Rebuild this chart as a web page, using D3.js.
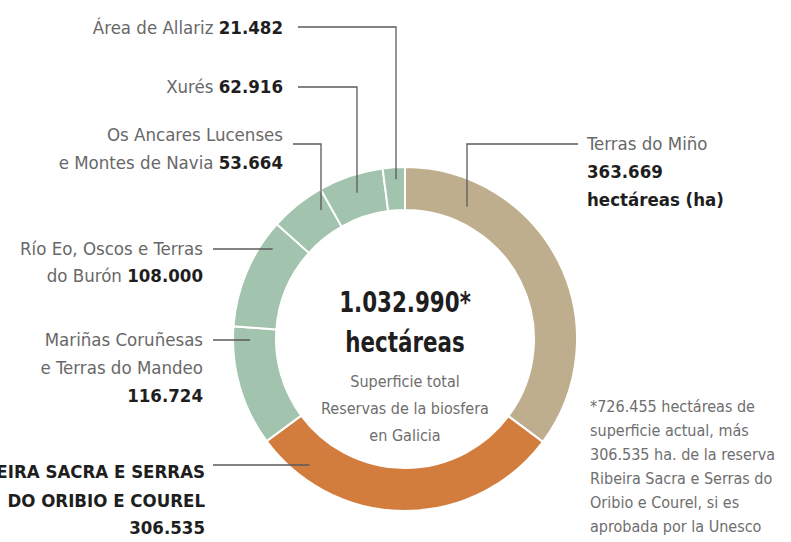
<!DOCTYPE html>
<html>
<head>
<meta charset="utf-8">
<script src="https://cdn.jsdelivr.net/npm/d3@7"></script>
<style>
  html, body { margin: 0; padding: 0; background: #fff; }
  svg { display: block; }
  text { font-family: "DejaVu Sans Condensed", "Liberation Sans Narrow", "Roboto", sans-serif; font-stretch: condensed; }
</style>
</head>
<body>
<svg id="chart"></svg>
<script>
// Reservas da biosfera en Galicia (hectáreas)
const categories = [
  "Terras do Miño",
  "Ribeira Sacra e Serras do Oribio e Courel",
  "Mariñas Coruñesas e Terras do Mandeo",
  "Río Eo, Oscos e Terras do Burón",
  "Os Ancares Lucenses e Montes de Navia",
  "Xurés",
  "Área de Allariz"
];
const values = [363669, 306535, 116724, 108000, 53664, 62916, 21482];
const groups = ["miño", "ribeira", "outras", "outras", "outras", "outras", "outras"];

const centerLines = ["Superficie total", "Reservas de la biosfera", "en Galicia"];
const footnote = [
  "*726.455 hectáreas de",
  "superficie actual, más",
  "306.535 ha. de la reserva",
  "Ribeira Sacra e Serras do",
  "Oribio e Courel, si es",
  "aprobada por la Unesco"
];

const W = 791, H = 542;
const cx = 405, cy = 339;
const rOuter = 172, rInner = 129;

const es = d3.formatLocale({ decimal: ",", thousands: ".", grouping: [3], currency: ["", " €"] });
const fmt = es.format(",d");

const color = d3.scaleOrdinal()
  .domain(["miño", "ribeira", "outras"])
  .range(["#bfae8d", "#d27d3e", "#a2c3ad"]);

const svg = d3.select("#chart").attr("width", W).attr("height", H);

const data = categories.map((c, i) => ({ name: c, value: values[i], group: groups[i] }));

const pie = d3.pie().value(d => d.value).sort(null);
const arcs = pie(data);
const arc = d3.arc().innerRadius(rInner).outerRadius(rOuter);

const g = svg.append("g").attr("transform", `translate(${cx},${cy})`);

g.selectAll("path.slice")
  .data(arcs)
  .enter()
  .append("path")
  .attr("class", "slice")
  .attr("d", arc)
  .attr("fill", d => color(d.data.group))
  .attr("stroke", "#fff")
  .attr("stroke-width", 2);

// etiquetas: cada liña é unha lista de tramos [texto, estilo]
const labelLayout = [
  { anchor: "start", x: 587, ys: [144, 172, 200],
    lines: v => [[["Terras do Miño", "name"]], [[fmt(v), "num"]], [["hectáreas (ha)", "num"]]],
    leader: { type: "down", x0: 578, y: 144, x: 467, r: 146 } },
  { anchor: "end", x: 205, ys: [472, 501, 528],
    lines: v => [[["RIBEIRA SACRA E SERRAS", "num"]], [["DO ORIBIO E COUREL", "num"]], [[fmt(v), "num"]]],
    leader: { type: "side", x0: 213, y: 465, r: 158 } },
  { anchor: "end", x: 203, ys: [340, 368, 396],
    lines: v => [[["Mariñas Coruñesas", "name"]], [["e Terras do Mandeo", "name"]], [[fmt(v), "num"]]],
    leader: { type: "side", x0: 213, y: 340, r: 155 } },
  { anchor: "end", x: 203, ys: [249, 276],
    lines: v => [[["Río Eo, Oscos e Terras", "name"]], [["do Burón ", "name"], [fmt(v), "num"]]],
    leader: { type: "side", x0: 213, y: 249, r: 160 } },
  { anchor: "end", x: 283, ys: [135, 163],
    lines: v => [[["Os Ancares Lucenses", "name"]], [["e Montes de Navia ", "name"], [fmt(v), "num"]]],
    leader: { type: "down", x0: 293, y: 144, x: 321, r: 154 } },
  { anchor: "end", x: 283, ys: [87],
    lines: v => [[["Xurés ", "name"], [fmt(v), "num"]]],
    leader: { type: "down", x0: 298, y: 87, x: 357, r: 154 } },
  { anchor: "end", x: 283, ys: [28],
    lines: v => [[["Área de Allariz ", "name"], [fmt(v), "num"]]],
    leader: { type: "down", x0: 298, y: 27, x: 396, r: 160 } }
];

const leaders = svg.append("g").attr("class", "leaders");
const labels = svg.append("g").attr("class", "labels");

arcs.forEach((a, i) => {
  const L = labelLayout[i];
  const ld = L.leader;
  let pts;
  if (ld.type === "down") {
    const dx = ld.x - cx;
    const yEnd = cy - Math.sqrt(ld.r * ld.r - dx * dx);
    pts = [[ld.x0, ld.y], [ld.x, ld.y], [ld.x, yEnd]];
  } else {
    const dy = ld.y - cy;
    const xEnd = cx - Math.sqrt(ld.r * ld.r - dy * dy);
    pts = [[ld.x0, ld.y], [xEnd, ld.y]];
  }
  leaders.append("path")
    .attr("d", d3.line()(pts))
    .attr("fill", "none")
    .attr("stroke", "#5a5a5a")
    .attr("stroke-width", 1.3);

  const lines = L.lines(a.data.value);
  lines.forEach((spans, j) => {
    const t = labels.append("text")
      .attr("x", L.x)
      .attr("y", L.ys[j])
      .attr("dy", "0.35em")
      .attr("text-anchor", L.anchor)
      .attr("font-size", 18.5);
    spans.forEach(([txt, style]) => {
      t.append("tspan")
        .text(txt)
        .attr("font-weight", style === "num" ? "bold" : "normal")
        .attr("fill", style === "num" ? "#1e1e1e" : "#686868");
    });
  });
});

// centro (letra estreitada para imitar a tipografía condensada)
const total = d3.sum(values);
const big = [fmt(total) + "*", "hectáreas"];
svg.append("g").selectAll("text.big")
  .data(big)
  .enter()
  .append("text")
  .attr("class", "big")
  .attr("transform", (d, i) => `translate(${cx},${302 + i * 40}) scale(0.85,1)`)
  .attr("dy", "0.35em")
  .attr("text-anchor", "middle")
  .attr("font-size", 28)
  .attr("font-weight", "bold")
  .attr("fill", "#1e1e1e")
  .text(d => d);

svg.append("g").selectAll("text.sub")
  .data(centerLines)
  .enter()
  .append("text")
  .attr("class", "sub")
  .attr("x", cx)
  .attr("y", (d, i) => 381 + i * 27)
  .attr("dy", "0.35em")
  .attr("text-anchor", "middle")
  .attr("font-size", 16)
  .attr("fill", "#6e6e6e")
  .text(d => d);

// nota
svg.append("g").selectAll("text")
  .data(footnote)
  .enter()
  .append("text")
  .attr("x", 590)
  .attr("y", (d, i) => 406 + i * 24)
  .attr("dy", "0.35em")
  .attr("font-size", 16)
  .attr("fill", "#6e6e6e")
  .text(d => d);
</script>
</body>
</html>
